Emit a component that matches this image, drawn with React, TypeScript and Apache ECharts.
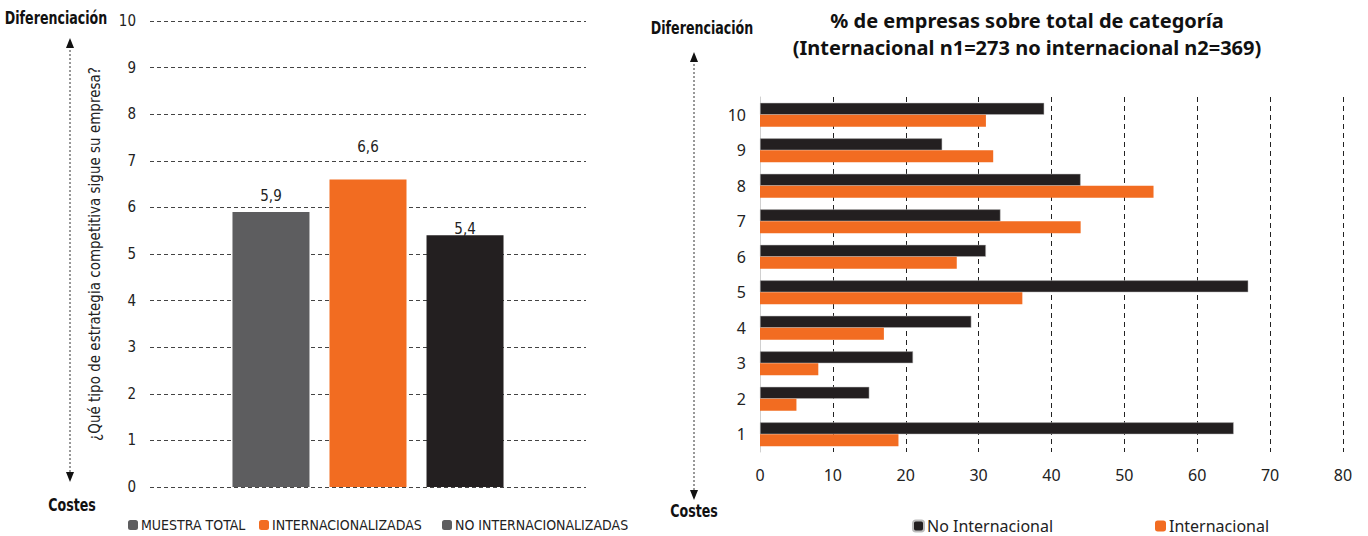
import React, { useEffect, useRef } from "react";
import * as echarts from "echarts";

const leftSeriesNames = ["MUESTRA TOTAL", "INTERNACIONALIZADAS", "NO INTERNACIONALIZADAS"];
const leftValues = [5.9, 6.6, 5.4];
const leftColors = ["#5d5d5f", "#f26c21", "#231f20"];
const leftLabelOffsets = [-4, -20, 6];
const leftTicks = [0, 10];

const rightCategories = ["1", "2", "3", "4", "5", "6", "7", "8", "9", "10"];
const noInternacional = [65, 15, 21, 29, 67, 31, 33, 44, 25, 39];
const internacional = [19, 5, 8, 17, 36, 27, 44, 54, 32, 31];
const rightTicks = [0, 80];

const COND = "'Liberation Sans Narrow', 'DejaVu Sans Condensed', 'Roboto', sans-serif";
const REG = "'Noto Sans', 'Open Sans', sans-serif";

export default function App() {
  const ref = useRef<HTMLDivElement>(null);
  useEffect(() => {
    if (!ref.current) return;
    const chart = echarts.init(ref.current, undefined, { renderer: "svg" });
    const arrow = (x: number, y1: number, y2: number) => [
      {
        type: "line",
        shape: { x1: x, y1: y1 + 8, x2: x, y2: y2 - 8 },
        style: { stroke: "#333", lineWidth: 1, lineDash: [2, 2] },
      },
      {
        type: "polygon",
        shape: { points: [[x, y1], [x - 4, y1 + 10], [x + 4, y1 + 10]] },
        style: { fill: "#111" },
      },
      {
        type: "polygon",
        shape: { points: [[x, y2], [x - 4, y2 - 10], [x + 4, y2 - 10]] },
        style: { fill: "#111" },
      },
    ];
    const boldText = (text: string, x: number, y: number) => ({
      type: "text",
      x,
      y,
      scaleX: 0.78,
      style: {
        text,
        fill: "#111",
        font: `bold 18px ${COND}`,
        textAlign: "center",
        textVerticalAlign: "middle",
      },
    });
    const legendBase = { itemWidth: 10, itemHeight: 10, padding: 0, top: 518 };
    chart.setOption({
      animation: false,
      title: {
        text: "% de empresas sobre total de categoría\n(Internacional n1=273 no internacional n2=369)",
        left: 1022,
        top: 2,
        textAlign: "center",
        textStyle: { fontFamily: REG, fontWeight: "bold", fontSize: 20, lineHeight: 27, color: "#111" },
      },
      legend: [
        { ...legendBase, left: 128, data: [{ name: leftSeriesNames[0] }],
          textStyle: { fontFamily: COND, fontSize: 14, color: "#222", padding: [0, 0, 0, -2] } },
        { ...legendBase, left: 259, data: [{ name: leftSeriesNames[1] }],
          textStyle: { fontFamily: COND, fontSize: 14, color: "#222", padding: [0, 0, 0, -2] } },
        { ...legendBase, left: 442, data: [{ name: leftSeriesNames[2], itemStyle: { color: "#5d5d5f" } }],
          textStyle: { fontFamily: COND, fontSize: 14, color: "#222", padding: [0, 0, 0, -2] } },
        { ...legendBase, left: 912, itemWidth: 11, itemHeight: 11, data: [{ name: "No Internacional" }],
          textStyle: { fontFamily: REG, fontSize: 16, color: "#222", padding: [0, 0, 0, -2] } },
        { ...legendBase, left: 1155, itemWidth: 11, itemHeight: 11, data: [{ name: "Internacional" }],
          textStyle: { fontFamily: REG, fontSize: 16, color: "#222", padding: [0, 0, 0, -2] } },
      ],
      grid: [
        { left: 150, right: 1368 - 586, top: 21, bottom: 536 - 487 },
        { left: 760, right: 1368 - 1343, top: 97, bottom: 536 - 452 },
      ],
      xAxis: [
        {
          gridIndex: 0,
          type: "category",
          data: [""],
          axisLine: { show: false },
          axisTick: { show: false },
          axisLabel: { show: false },
        },
        {
          gridIndex: 1,
          type: "value",
          min: rightTicks[0],
          max: rightTicks[1],
          interval: 10,
          axisLine: { show: false },
          axisTick: { show: false },
          axisLabel: { margin: 15, fontFamily: REG, fontSize: 16, color: "#222" },
          splitLine: { show: true, lineStyle: { color: "#222", type: [5, 4], width: 1 } },
        },
      ],
      yAxis: [
        {
          gridIndex: 0,
          type: "value",
          min: leftTicks[0],
          max: leftTicks[1],
          interval: 1,
          name: "¿Qué tipo de estrategia competitiva sigue su empresa?",
          nameLocation: "middle",
          nameGap: 48,
          nameRotate: 90,
          nameTextStyle: { fontFamily: COND, fontSize: 15, color: "#222" },
          axisLine: { show: false },
          axisTick: { show: false },
          axisLabel: { margin: 14, fontFamily: COND, fontSize: 15, color: "#222" },
          splitLine: { show: true, lineStyle: { color: "#444", type: [4, 3], width: 1 } },
        },
        {
          gridIndex: 1,
          type: "category",
          data: rightCategories,
          axisLine: { show: true, lineStyle: { color: "#d0d0d0" } },
          axisTick: { show: false },
          axisLabel: { margin: 14, fontFamily: REG, fontSize: 16, color: "#222" },
        },
      ],
      series: [
        ...leftSeriesNames.map((name, i) => ({
          type: "bar",
          name,
          xAxisIndex: 0,
          yAxisIndex: 0,
          data: [leftValues[i]],
          barWidth: 77,
          barGap: "26%",
          itemStyle: { color: leftColors[i] },
          label: {
            show: true,
            position: "top",
            offset: [0, leftLabelOffsets[i]],
            formatter: (p: any) => String(p.value).replace(".", ","),
            fontFamily: COND,
            fontSize: 15,
            color: "#222",
          },
        })),
        {
          type: "bar",
          name: "No Internacional",
          xAxisIndex: 1,
          yAxisIndex: 1,
          data: noInternacional,
          barGap: "0%",
          barCategoryGap: "33%",
          itemStyle: { color: "#231f20", borderColor: "#bbb", borderWidth: 0.5 },
        },
        {
          type: "bar",
          name: "Internacional",
          xAxisIndex: 1,
          yAxisIndex: 1,
          data: internacional,
          barGap: "0%",
          barCategoryGap: "33%",
          itemStyle: { color: "#f26c21" },
        },
      ],
      graphic: [
        ...arrow(70, 38, 482),
        ...arrow(694, 52, 500),
        boldText("Diferenciación", 56, 18),
        boldText("Costes", 72, 505),
        boldText("Diferenciación", 702, 28),
        boldText("Costes", 694, 511),
      ],
    });
    return () => chart.dispose();
  }, []);
  return <div ref={ref} style={{ position: "absolute", left: 0, top: 0, width: 1368, height: 536 }} />;
}
